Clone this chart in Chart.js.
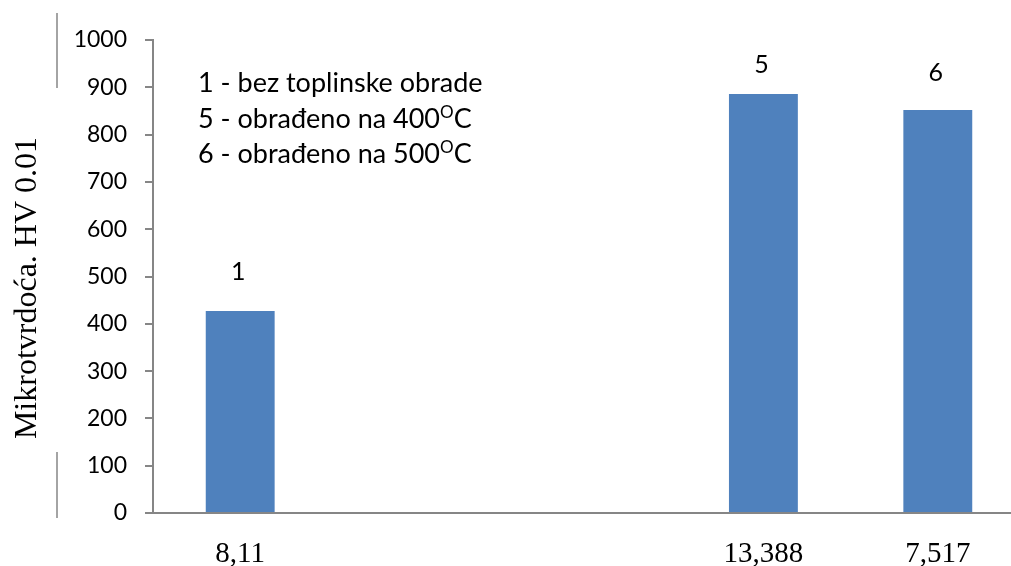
<!DOCTYPE html>
<html>
<head>
<meta charset="utf-8">
<script src="https://cdn.jsdelivr.net/npm/chart.js@4.4.0/dist/chart.umd.min.js"></script>
<style>
  html, body { margin: 0; padding: 0; background: #fff; overflow: hidden; }
  #wrap { width: 1025px; height: 566px; }
</style>
</head>
<body>
<div id="wrap"><canvas id="myChart"></canvas></div>
<script>
// x categories (two empty slots between the first and the last two samples)
const categories = ['8,11', '', '', '13,388', '7,517'];
// microhardness HV 0.01
const hardness = [427, null, null, 886, 852];
// sample numbers written above the bars
const sampleNames = ['1', '', '', '5', '6'];
// key lines in the text box
const keyLines = [
  { text: '1 - bez toplinske obrade', sup: '', tail: '' },
  { text: '5 - obrađeno na 400', sup: 'O', tail: 'C' },
  { text: '6 - obrađeno na 500', sup: 'O', tail: 'C' }
];
const yTitle = 'Mikrotvrdoća. HV 0.01';

const axisGray = '#868686';
const sansFont = 'Lato, "Open Sans", sans-serif';
const serifFont = '"Liberation Serif", "Times New Roman", serif';

// how far above the bar top each sample number sits
const nameLift = [39, 0, 0, 29, 37];

const annotations = {
  id: 'annotations',
  afterDraw(chart) {
    const ctx = chart.ctx;
    const meta = chart.getDatasetMeta(0);
    ctx.save();

    // sample numbers over the bars
    ctx.fillStyle = '#000';
    ctx.font = '25px ' + sansFont;
    ctx.textAlign = 'center';
    ctx.textBaseline = 'middle';
    meta.data.forEach((bar, i) => {
      if (!sampleNames[i] || hardness[i] == null) return;
      ctx.fillText(sampleNames[i], bar.x - 2, bar.y - nameLift[i]);
    });

    // key text box
    ctx.textAlign = 'left';
    ctx.textBaseline = 'alphabetic';
    keyLines.forEach((line, i) => {
      const x = 198;
      const y = 92 + i * 35.5;
      ctx.font = '27px ' + sansFont;
      ctx.fillText(line.text, x, y);
      if (line.sup) {
        let w = ctx.measureText(line.text).width;
        ctx.font = '17px ' + sansFont;
        ctx.fillText(line.sup, x + w, y - 10);
        w += ctx.measureText(line.sup).width;
        ctx.font = '27px ' + sansFont;
        ctx.fillText(line.tail, x + w, y);
      }
    });

    // rotated y axis title
    ctx.font = '32px ' + serifFont;
    ctx.translate(36, 288);
    ctx.rotate(-Math.PI / 2);
    ctx.textAlign = 'center';
    ctx.textBaseline = 'alphabetic';
    ctx.fillText(yTitle, 0, 0);
    ctx.restore();

    // leftover frame strokes beside the title
    ctx.save();
    ctx.strokeStyle = axisGray;
    ctx.lineWidth = 1.5;
    ctx.beginPath();
    ctx.moveTo(57, 13);
    ctx.lineTo(57, 88);
    ctx.moveTo(57, 452);
    ctx.lineTo(57, 518);
    ctx.stroke();
    ctx.restore();
  }
};

const ctx = document.getElementById('myChart').getContext('2d');
const chart = new Chart(ctx, {
  type: 'bar',
  data: {
    labels: categories,
    datasets: [{
      data: hardness,
      backgroundColor: '#4F81BD',
      borderWidth: 0,
      barPercentage: 0.395,
      categoryPercentage: 1
    }]
  },
  options: {
    responsive: true,
    maintainAspectRatio: false,
    animation: false,
    layout: { padding: { top: 40, left: 0, right: 0, bottom: 0 } },
    plugins: {
      legend: { display: false },
      tooltip: { enabled: false }
    },
    scales: {
      x: {
        grid: { display: false },
        border: { display: true, color: axisGray, width: 2 },
        ticks: {
          color: '#000',
          font: { family: serifFont, size: 29 },
          padding: 16,
          maxRotation: 0,
          autoSkip: false
        },
        afterFit(scale) { scale.height = 53; }
      },
      y: {
        min: 0,
        max: 1000,
        grid: {
          drawOnChartArea: false,
          drawTicks: true,
          tickLength: 8,
          color: axisGray,
          lineWidth: 2
        },
        border: { display: true, color: axisGray, width: 2 },
        ticks: {
          stepSize: 100,
          color: '#000',
          font: { family: sansFont, size: 23 },
          padding: 18,
          callback: (v) => String(v)
        },
        afterFit(scale) { scale.width = 153; }
      }
    }
  },
  plugins: [annotations]
});
</script>
</body>
</html>
